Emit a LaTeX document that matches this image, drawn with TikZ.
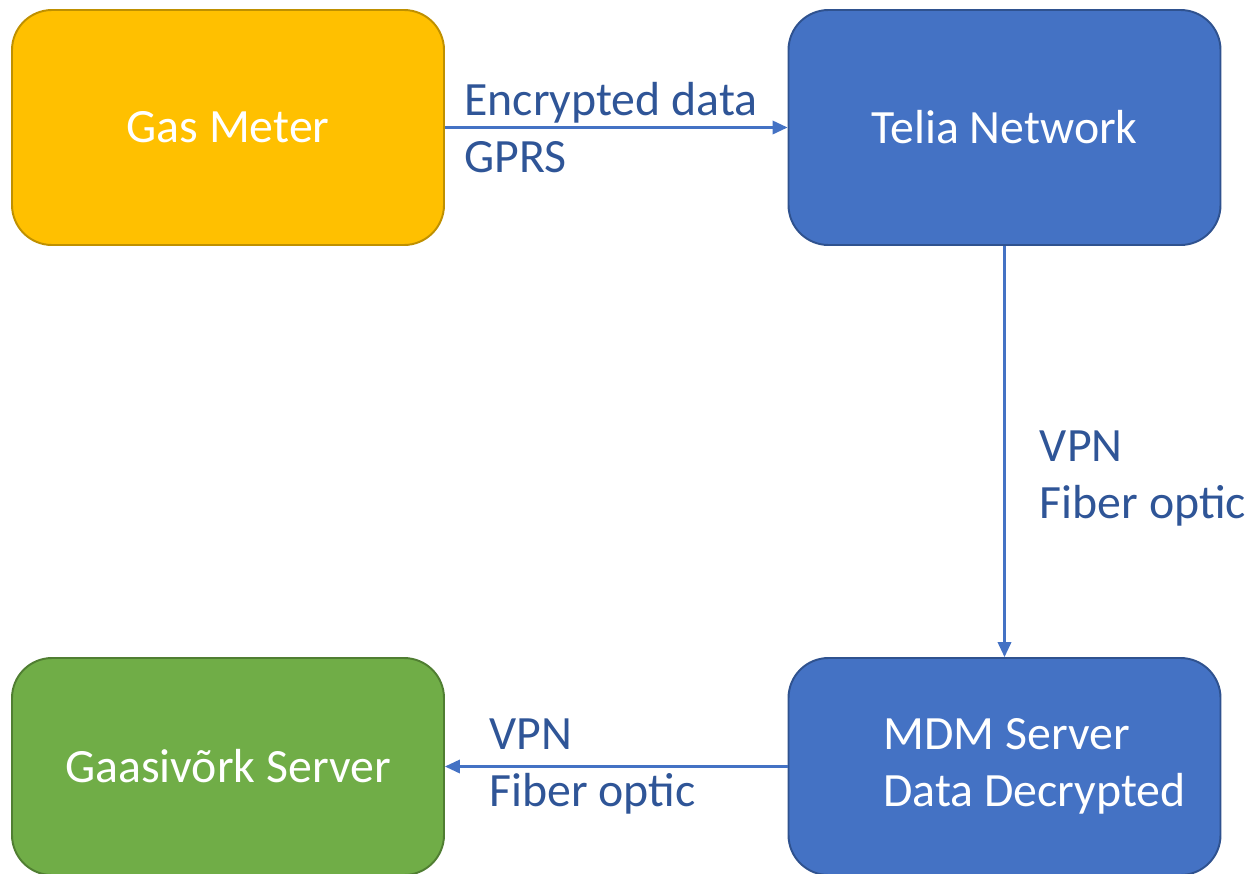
\documentclass[tikz,border=0pt]{standalone}
\usepackage{fontspec}
\setmainfont{Carlito}
\usetikzlibrary{arrows.meta,positioning}
\definecolor{meterfill}{HTML}{FFC000}
\definecolor{meterline}{HTML}{BF9000}
\definecolor{netfill}{HTML}{4472C4}
\definecolor{netline}{HTML}{2F528F}
\definecolor{serverfill}{HTML}{70AD47}
\definecolor{serverline}{HTML}{507E32}
\definecolor{linkblue}{HTML}{2F5597}
\tikzset{
    box/.style={
        rectangle,
        rounded corners=0.8cm,
        line width=1.1pt,
        minimum width=8.64cm,
        minimum height=4.7cm,
        text=white,
        font=\fontsize{27.2}{32.4}\selectfont,
    },
    meter/.style={box, draw=meterline, fill=meterfill},
    network/.style={box, draw=netline, fill=netfill},
    server/.style={box, draw=serverline, fill=serverfill, minimum height=4.34cm},
    link/.style={->, line width=1.2pt, draw=netfill},
    linktext/.style={align=left, text=linkblue, font=\fontsize{27.2}{32.4}\selectfont},
}
\begin{document}
\begin{tikzpicture}[node distance=15.53cm, >={Triangle[length=0.3cm,width=0.27cm]}]
    \useasboundingbox (-4.56,2.55) rectangle (20.50,-14.91);
    \node [meter] (gas) {Gas Meter};
    \node [network] (telia) [right of=gas] {Telia Network};
    \node [network, minimum height=4.34cm] (mdm) [below of=telia, node distance=12.78cm,
        label={[linktext, text=white, xshift=0.6cm]center:MDM Server\\Data Decrypted}] {};
    \node [server] (gaasi) [left of=mdm] {Gaasivõrk Server};
    % connections
    \draw [link] (gas) -- node [linktext, pos=0, anchor=west, xshift=0.25cm] {Encrypted data\\GPRS} (telia);
    \draw [link] (telia) -- node [linktext, pos=0.565, anchor=west, xshift=0.57cm] {VPN\\Fiber optic} (mdm);
    \draw [link] (mdm) -- node [linktext, pos=1, anchor=west, xshift=0.75cm] {VPN\\Fiber optic} (gaasi);
\end{tikzpicture}
\end{document}
